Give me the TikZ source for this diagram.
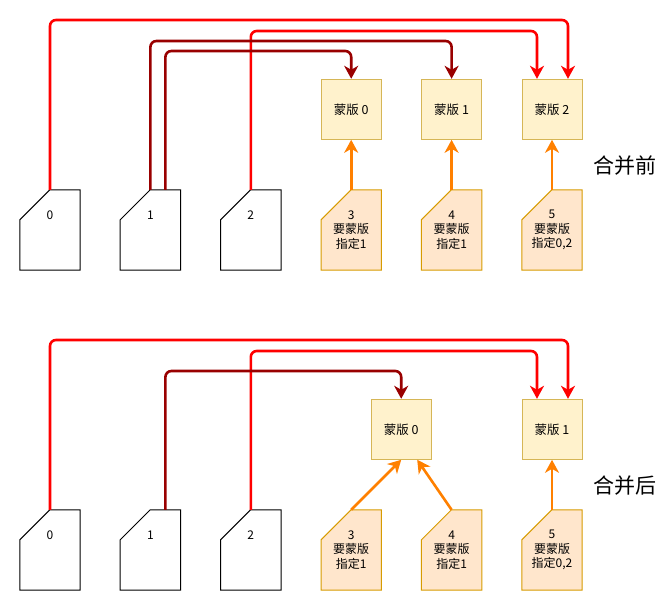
\documentclass[tikz,border=0pt]{standalone}
\usepackage{fontspec}
\setmainfont{Noto Sans CJK SC}
\usepackage{xcolor}
\usetikzlibrary{arrows.meta,positioning,backgrounds}

\definecolor{lanered}{HTML}{FF0000}
\definecolor{lanedark}{HTML}{990000}
\definecolor{feedorange}{HTML}{FF8000}
\definecolor{maskfill}{HTML}{FFF2CC}
\definecolor{maskline}{HTML}{D6B656}
\definecolor{docfill}{HTML}{FFE6CC}
\definecolor{docline}{HTML}{D79B00}

\begin{document}
\begin{tikzpicture}[
  x=1pt, y=1pt,
  node distance=40pt and 40pt,
  card/.style={minimum width=60pt, minimum height=80pt, inner sep=0pt, align=center, font=\fontsize{12}{14.5}\selectfont},
  doc/.style={card, label={[anchor=center, yshift=-25pt, font=\fontsize{12}{14}\selectfont]north:#1}},
  mask/.style={draw=maskline, fill=maskfill, line width=1pt, minimum size=60pt, inner sep=0pt, font=\fontsize{12.5}{14}\selectfont},
  lane/.style={line width=2.6pt, rounded corners=6pt, -{Stealth[length=13pt, width=14pt, inset=4pt]}},
  feed/.style={line width=2.6pt, draw=feedorange, -{Stealth[length=13pt, width=14pt, inset=4pt]}},
  title/.style={font=\fontsize{21}{24}\selectfont}
]
  \useasboundingbox (0,0) rectangle (672,606);

  % before merge
  \node[doc=0] (c0) at (50,376) {};
  \node[doc=1, right=of c0] (c1) {};
  \node[doc=2, right=of c1] (c2) {};
  \node[card, right=of c2] (c3) {3\\要蒙版\\指定1};
  \node[card, right=of c3] (c4) {4\\要蒙版\\指定1};
  \node[card, right=of c4] (c5) {5\\要蒙版\\指定0,2};
  \node[mask, above=50pt of c3] (m0) {蒙版 0};
  \node[mask, above=50pt of c4] (m1) {蒙版 1};
  \node[mask, above=50pt of c5] (m2) {蒙版 2};
  \node[title] (before) at (625,440) {合并前};

  \draw[lane, lanered] (c0.north) -- (c0.north |- 0,586) -| ([xshift=16pt]m2.north);
  \draw[lane, lanered] (c2.north) -- (c2.north |- 0,575) -| ([xshift=-15pt]m2.north);
  \draw[lane, lanedark] (c1.north) -- (c1.north |- 0,565) -| (m1.north);
  \draw[lane, lanedark] ([xshift=15pt]c1.north) -- ([xshift=15pt]c1.north |- 0,555) -| (m0.north);
  \draw[feed] (c3.north) -- (m0.south);
  \draw[feed] (c4.north) -- (m1.south);
  \draw[feed] (c5.north) -- (m2.south);

  % after merge
  \node[doc=0] (d0) at (50,56) {};
  \node[doc=1, right=of d0] (d1) {};
  \node[doc=2, right=of d1] (d2) {};
  \node[card, right=of d2] (d3) {3\\要蒙版\\指定1};
  \node[card, right=of d3] (d4) {4\\要蒙版\\指定1};
  \node[card, right=of d4] (d5) {5\\要蒙版\\指定0,2};
  \node[mask, above=50pt of d3, xshift=50pt] (b0) {蒙版 0};
  \node[mask, above=50pt of d5] (b1) {蒙版 1};
  \node[title] (after) at (625,120) {合并后};

  \draw[lane, lanered] (d0.north) -- (d0.north |- 0,266) -| ([xshift=16pt]b1.north);
  \draw[lane, lanered] (d2.north) -- (d2.north |- 0,255) -| ([xshift=-15pt]b1.north);
  \draw[lane, lanedark] ([xshift=15pt]d1.north) -- ([xshift=15pt]d1.north |- 0,235) -| (b0.north);
  \draw[feed] (d3.north) -- (b0.south);
  \draw[feed] (d4.north) -- ([xshift=16pt]b0.south);
  \draw[feed] (d5.north) -- (b1.south);

  % card outlines with cut corner
  \begin{scope}[on background layer]
    \foreach \n in {c0,c1,c2,d0,d1,d2}
      \draw[line width=1pt, fill=white] (\n.north west) ++(0,-30) -- ++(30,30) -- (\n.north east) -- (\n.south east) -- (\n.south west) -- cycle;
    \foreach \n in {c3,c4,c5,d3,d4,d5}
      \draw[line width=1pt, draw=docline, fill=docfill] (\n.north west) ++(0,-30) -- ++(30,30) -- (\n.north east) -- (\n.south east) -- (\n.south west) -- cycle;
  \end{scope}
\end{tikzpicture}
\end{document}
